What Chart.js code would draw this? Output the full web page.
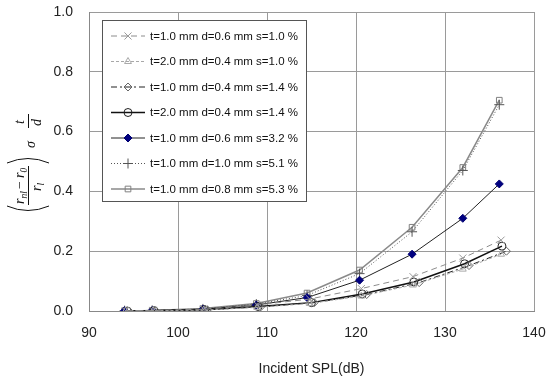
<!DOCTYPE html>
<html>
<head>
<meta charset="utf-8">
<script src="https://cdn.jsdelivr.net/npm/chart.js@4/dist/chart.umd.min.js"></script>
<style>
  html, body { margin: 0; padding: 0; background: #fff; overflow: hidden; }
  #wrap { width: 546px; height: 378px; }
</style>
</head>
<body>
<div id="wrap"><canvas id="c" width="546" height="378"></canvas></div>
<script>
// incident SPL (dB) per series - markers are slightly offset in the original
const splA = [94.0, 97.1, 102.8, 108.8, 114.5, 120.4, 126.3, 132.0, 136.1];
const splB = [94.1, 97.2, 102.9, 108.9, 114.8, 120.6, 126.4, 132.0, 136.3];
const splC = [94.3, 97.3, 103.0, 109.0, 115.0, 120.7, 126.5, 132.2, 136.4];
const splD = [94.5, 97.5, 103.3, 109.3, 115.3, 121.2, 127.1, 132.7, 136.9];

const labels = [
  "t=1.0 mm d=0.6 mm s=1.0 %",
  "t=2.0 mm d=0.4 mm s=1.0 %",
  "t=1.0 mm d=0.4 mm s=1.4 %",
  "t=2.0 mm d=0.4 mm s=1.4 %",
  "t=1.0 mm d=0.6 mm s=3.2 %",
  "t=1.0 mm d=1.0 mm s=5.1 %",
  "t=1.0 mm d=0.8 mm s=5.3 %"
];

const s1 = [0.001, 0.002, 0.006, 0.020, 0.040, 0.075, 0.115, 0.177, 0.237];
const s2 = [0.000, 0.001, 0.003, 0.012, 0.025, 0.050, 0.087, 0.140, 0.190];
const s3 = [0.000, 0.001, 0.004, 0.014, 0.028, 0.055, 0.095, 0.152, 0.200];
const s4 = [0.000, 0.001, 0.004, 0.015, 0.028, 0.057, 0.097, 0.158, 0.217];
const s5 = [0.001, 0.002, 0.006, 0.020, 0.045, 0.103, 0.190, 0.310, 0.425];
const s6 = [0.001, 0.002, 0.007, 0.023, 0.052, 0.125, 0.265, 0.470, 0.690];
const s7 = [0.001, 0.002, 0.008, 0.025, 0.060, 0.137, 0.280, 0.480, 0.705];

const xTicks = [90, 100, 110, 120, 130, 140];
const yTicks = [0, 0.2, 0.4, 0.6, 0.8, 1.0];

function pts(xs, ys) {
  return ys.map(function (v, i) { return { x: xs[i], y: v }; });
}

const clear = "rgba(255,255,255,0)";

const datasets = [
  { label: labels[0], data: pts(splB, s1), borderColor: "#8c8c8c", borderWidth: 1, borderDash: [6, 4],
    pointStyle: "crossRot", pointRadius: 5, pointBorderColor: "#9a9a9a", pointBackgroundColor: clear, pointBorderWidth: 1 },
  { label: labels[1], data: pts(splB, s2), borderColor: "#a8a8a8", borderWidth: 1, borderDash: [3, 2],
    pointStyle: "triangle", pointRadius: 4, pointBorderColor: "#aaaaaa", pointBackgroundColor: clear, pointBorderWidth: 1 },
  { label: labels[2], data: pts(splD, s3), borderColor: "#222", borderWidth: 1, borderDash: [6, 3, 2, 3],
    pointStyle: "rectRot", pointRadius: 4, pointBorderColor: "#666", pointBackgroundColor: clear, pointBorderWidth: 1 },
  { label: labels[3], data: pts(splC, s4), borderColor: "#111", borderWidth: 1.5,
    pointStyle: "circle", pointRadius: 4, pointBorderColor: "#222", pointBackgroundColor: clear, pointBorderWidth: 1 },
  { label: labels[4], data: pts(splA, s5), borderColor: "#222", borderWidth: 1,
    pointStyle: "rectRot", pointRadius: 4, pointBorderColor: "#000070", pointBackgroundColor: "#000080", pointBorderWidth: 1 },
  { label: labels[5], data: pts(splA, s6), borderColor: "#555", borderWidth: 1, borderDash: [1, 2],
    pointStyle: "cross", pointRadius: 5, pointBorderColor: "#555", pointBackgroundColor: clear, pointBorderWidth: 1 },
  { label: labels[6], data: pts(splA, s7), borderColor: "#8a8a8a", borderWidth: 1.5,
    pointStyle: "rect", pointRadius: 4, pointBorderColor: "#808080", pointBackgroundColor: clear, pointBorderWidth: 1 }
];

// legend box drawn inside the plot area
const boxLegend = {
  id: "boxLegend",
  afterDraw(chart) {
    const ctx = chart.ctx;
    const bx = 102, by = 20, bw = 204, bh = 181;
    ctx.save();
    ctx.fillStyle = "#fff";
    ctx.fillRect(bx, by, bw, bh);
    ctx.strokeStyle = "#555";
    ctx.lineWidth = 1;
    ctx.strokeRect(bx + 0.5, by + 0.5, bw, bh);
    chart.data.datasets.forEach(function (ds, i) {
      const y = 36 + i * 25.5;
      ctx.save();
      ctx.strokeStyle = ds.borderColor;
      ctx.lineWidth = ds.borderWidth;
      ctx.setLineDash(ds.borderDash || []);
      ctx.beginPath();
      ctx.moveTo(111, y);
      ctx.lineTo(145, y);
      ctx.stroke();
      ctx.setLineDash([]);
      ctx.strokeStyle = ds.pointBorderColor;
      ctx.fillStyle = ds.pointBackgroundColor;
      ctx.lineWidth = 1;
      Chart.helpers.drawPoint(ctx, { pointStyle: ds.pointStyle, radius: ds.pointRadius, rotation: 0, borderWidth: 1 }, 128, y);
      ctx.restore();
      ctx.fillStyle = "#111";
      ctx.font = "11.5px 'Liberation Sans', Arial, sans-serif";
      ctx.textBaseline = "middle";
      ctx.textAlign = "left";
      ctx.fillText(ds.label, 150, y + 0.5);
    });
    ctx.restore();
  }
};

// rotated math label for the y axis: ((r_nl - r_0)/r_l) sigma t/d
const yTitle = {
  id: "yTitle",
  afterDraw(chart) {
    const ctx = chart.ctx;
    ctx.save();
    ctx.translate(28, 214);
    ctx.rotate(-Math.PI / 2);
    ctx.fillStyle = "#111";
    ctx.strokeStyle = "#111";
    ctx.lineWidth = 1;
    const it = "italic 14px 'Liberation Serif', 'Times New Roman', serif";
    const sub = "italic 9.5px 'Liberation Serif', 'Times New Roman', serif";
    ctx.textBaseline = "alphabetic";
    // opening bracket
    ctx.beginPath();
    ctx.moveTo(8, -21);
    ctx.quadraticCurveTo(-1, 0, 8, 21);
    ctx.stroke();
    // numerator
    ctx.font = it; ctx.fillText("r", 10, -4);
    ctx.font = sub; ctx.fillText("nl", 15.5, -1);
    ctx.font = "14px 'Liberation Serif', serif"; ctx.fillText("\u2212", 25, -4);
    ctx.font = it; ctx.fillText("r", 36, -4);
    ctx.font = sub; ctx.fillText("0", 41.5, -1);
    // fraction line
    ctx.beginPath();
    ctx.moveTo(9, 0.5);
    ctx.lineTo(48, 0.5);
    ctx.stroke();
    // denominator
    ctx.font = it; ctx.fillText("r", 23, 13);
    ctx.font = sub; ctx.fillText("l", 28.5, 16);
    // closing bracket
    ctx.beginPath();
    ctx.moveTo(51, -21);
    ctx.quadraticCurveTo(60, 0, 51, 21);
    ctx.stroke();
    // sigma
    ctx.font = it; ctx.fillText("\u03c3", 66, 7);
    // t/d
    ctx.fillText("t", 90, -4);
    ctx.beginPath();
    ctx.moveTo(86, 0.5);
    ctx.lineTo(100, 0.5);
    ctx.stroke();
    ctx.fillText("d", 88, 13);
    ctx.restore();
  }
};

new Chart(document.getElementById("c"), {
  type: "scatter",
  data: { datasets: datasets.map(function (d) { return Object.assign({ showLine: true, fill: false, tension: 0 }, d); }) },
  options: {
    responsive: false,
    animation: false,
    layout: { padding: { left: 0, right: 12, top: 12, bottom: 0 } },
    plugins: { legend: { display: false }, tooltip: { enabled: false } },
    scales: {
      x: {
        type: "linear", min: 90, max: 140,
        afterBuildTicks: function (s) { s.ticks = xTicks.map(function (v) { return { value: v }; }); },
        afterFit: function (s) { s.height = 67; s.paddingLeft = 0; s.paddingRight = 0; },
        grid: { color: "#9a9a9a", drawTicks: false },
        border: { color: "#888" },
        ticks: { padding: 14, color: "#222", font: { family: "'Liberation Sans', Arial, sans-serif", size: 14 } },
        title: { display: true, text: "Incident SPL(dB)", color: "#222", padding: { top: 6, bottom: 0 },
          font: { family: "'Liberation Sans', Arial, sans-serif", size: 14 } }
      },
      y: {
        type: "linear", min: 0, max: 1,
        afterBuildTicks: function (s) { s.ticks = yTicks.map(function (v) { return { value: v }; }); },
        afterFit: function (s) { s.width = 89; s.paddingTop = 0; s.paddingBottom = 0; },
        grid: { color: "#9a9a9a", drawTicks: false },
        border: { color: "#888" },
        ticks: { padding: 16, color: "#222", callback: function (v) { return v.toFixed(1); },
          font: { family: "'Liberation Sans', Arial, sans-serif", size: 14 } }
      }
    }
  },
  plugins: [boxLegend, yTitle]
});
</script>
</body>
</html>
